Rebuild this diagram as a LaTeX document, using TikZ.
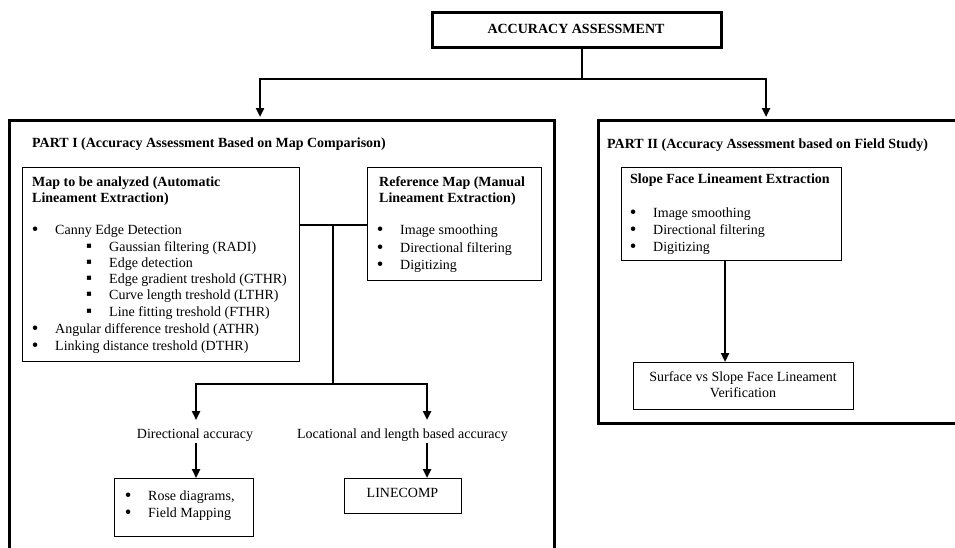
\documentclass[tikz,border=0pt]{standalone}
\usepackage{fontspec}
\setmainfont{Liberation Serif}
\usetikzlibrary{arrows.meta}
\begin{document}
\begin{tikzpicture}[x=1pt,y=-1pt,
  thickbox/.style={draw,line width=2.7pt,inner sep=0pt,anchor=north west},
  thinbox/.style={draw,line width=1.4pt,inner sep=0pt,anchor=north west},
  conn/.style={line width=2.7pt},
  arr/.style={line width=2.7pt,-{Triangle[length=9pt,width=8pt]}},
  txt/.style={anchor=base west,inner sep=0pt,font=\fontsize{14}{16}\selectfont},
  ctxt/.style={anchor=base,inner sep=0pt,font=\fontsize{14}{16}\selectfont},
  btxt/.style={anchor=base west,inner sep=0pt,font=\fontsize{14}{16}\selectfont\bfseries},
]
\useasboundingbox (0,0) rectangle (955,547);
\clip (0,0) rectangle (955,547);
\newcommand{\bu}{\makebox[0pt][c]{\raisebox{-1.5pt}{\scalebox{1.35}{•}}}\hspace{20pt}}
\newcommand{\sq}{\makebox[0pt][c]{\scalebox{1.2}{▪}}\hspace{20pt}}

% boxes
\node[thickbox,minimum width=289pt,minimum height=35pt] (top) at (431,11) {};
\node[thickbox,minimum width=545pt,minimum height=460pt] (p1) at (8,119) {};
\node[thickbox,minimum width=400pt,minimum height=303pt] (p2) at (597,119) {};
\node[thinbox,minimum width=277pt,minimum height=194pt] (map) at (22,167) {};
\node[thinbox,minimum width=174pt,minimum height=113pt] (ref) at (367,167) {};
\node[thinbox,minimum width=220pt,minimum height=93pt] (slope) at (621,167) {};
\node[thinbox,minimum width=220pt,minimum height=47pt] (surf) at (633,362) {};
\node[thinbox,minimum width=139pt,minimum height=58pt] (rose) at (114,478) {};
\node[thinbox,minimum width=117pt,minimum height=35pt] (lc) at (344,478) {};

% texts
\node[anchor=base,inner sep=0pt,font=\fontsize{14}{16}\selectfont\bfseries] (toptxt) at (576,33) {ACCURACY ASSESSMENT};
\node[btxt] (p1t) at (32,147) {PART I (Accuracy Assessment Based on Map Comparison)};
\node[btxt] (p2t) at (607,148) {PART II (Accuracy Assessment based on Field Study)};

\node[btxt] (mapt1) at (32,186) {Map to be analyzed (Automatic};
\node[btxt] (mapt2) at (32,202) {Lineament Extraction)};
\node[txt] (m1) at (35,234) {\bu Canny Edge Detection};
\node[txt] (m2) at (89,251) {\sq Gaussian filtering (RADI)};
\node[txt] (m3) at (89,267) {\sq Edge detection};
\node[txt] (m4) at (89,283) {\sq Edge gradient treshold (GTHR)};
\node[txt] (m5) at (89,299) {\sq Curve length treshold (LTHR)};
\node[txt] (m6) at (89,316) {\sq Line fitting treshold (FTHR)};
\node[txt] (m7) at (35,333) {\bu Angular difference treshold (ATHR)};
\node[txt] (m8) at (35,350) {\bu Linking distance treshold (DTHR)};

\node[btxt] (reft1) at (379,186) {Reference Map (Manual};
\node[btxt] (reft2) at (379,202) {Lineament Extraction)};
\node[txt] (r1) at (380,234) {\bu Image smoothing};
\node[txt] (r2) at (380,252) {\bu Directional filtering};
\node[txt] (r3) at (380,269) {\bu Digitizing};

\node[btxt] (slt) at (630,183) {Slope Face Lineament Extraction};
\node[txt] (s1t) at (633,217) {\bu Image smoothing};
\node[txt] (s2t) at (633,234) {\bu Directional filtering};
\node[txt] (s3t) at (633,251) {\bu Digitizing};

\node[ctxt] (su1) at (743,381) {Surface vs Slope Face Lineament};
\node[ctxt] (su2) at (743,397) {Verification};

\node[ctxt] (da) at (195,438) {Directional accuracy};
\node[ctxt] (la) at (402.5,438) {Locational and length based accuracy};

\node[txt] (ro1) at (128,500) {\bu Rose diagrams,};
\node[txt] (ro2) at (128,517) {\bu Field Mapping};
\node[ctxt] (lct) at (402.5,497) {LINECOMP};

% connectors
\coordinate (t1) at (582,79);
\coordinate (a1) at (260,117);
\coordinate (a2) at (766,117);
\draw[conn] (t1 |- top.south) -- (t1);
\draw[arr] (t1) -| (a1);
\draw[arr] (t1) -| (a2);

\coordinate (j1) at (333,225);
\coordinate (j2) at (333,384);
\coordinate (d1) at (196,420);
\coordinate (d2) at (427,420);
\draw[conn] (map.east |- j1) -- (ref.west |- j1);
\draw[conn] (j1) -- (j2);
\draw[arr] (j2) -| (d1);
\draw[arr] (j2) -| (d2);
\coordinate (e1) at (196,443);
\coordinate (e2) at (427,443);
\draw[arr] (e1) -- (e1 |- rose.north);
\draw[arr] (e2) -- (e2 |- lc.north);

\coordinate (sv) at (725,0);
\draw[arr] (sv |- slope.south) -- (sv |- surf.north);
\end{tikzpicture}
\end{document}
